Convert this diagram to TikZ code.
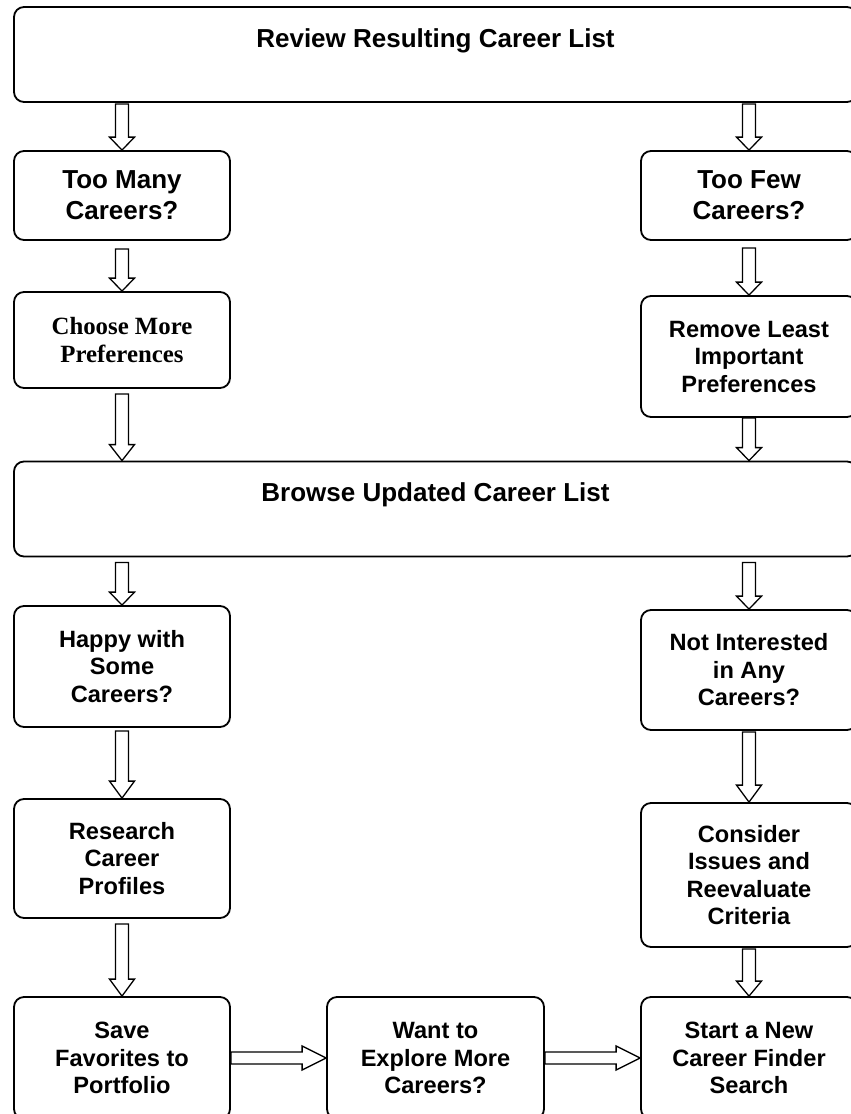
\documentclass[tikz,border=0pt]{standalone}
\usepackage{fontspec}
\setmainfont{Liberation Sans}
\newfontfamily\slabserif{Liberation Serif}
\usetikzlibrary{calc,backgrounds}

\tikzset{
  box/.style={draw, line width=1.8pt, rounded corners=10pt, inner sep=0pt,
    align=center, font=\bfseries\fontsize{23.6}{27.5}\selectfont},
  narrow/.style={box, minimum width=216pt},
  wide/.style={box, minimum width=843pt, font=\bfseries\fontsize{26}{31}\selectfont,
    text height=40pt, text depth=55pt},
  headfont/.style={font=\bfseries\fontsize{26}{31}\selectfont},
  blockarrow/.style={draw, fill=white, line width=1.3pt, line join=miter},
}

% hollow block arrow pointing down: #1 start, #2 end, #3 gap below start, #4 head length
\newcommand\downblock[4]{%
  \path[blockarrow] let \p1=(#1), \p2=(#2) in
    (\x1-6.5pt,\y1-#3pt) -- (\x1-6.5pt,\y2+#4pt) -- (\x1-12.5pt,\y2+#4pt) --
    (\x1,\y2) -- (\x1+12.5pt,\y2+#4pt) -- (\x1+6.5pt,\y2+#4pt) --
    (\x1+6.5pt,\y1-#3pt) -- cycle;}

% hollow block arrow pointing right: #1 start, #2 end
\newcommand\rightblock[2]{%
  \path[blockarrow] let \p1=(#1), \p2=(#2) in
    (\x1,\y1+6pt) -- (\x2-24pt,\y1+6pt) -- (\x2-24pt,\y1+12pt) -- (\x2,\y1) --
    (\x2-24pt,\y1-12pt) -- (\x2-24pt,\y1-6pt) -- (\x1,\y1-6pt) -- cycle;}

\begin{document}
\begin{tikzpicture}[x=1pt,y=-1pt]
\useasboundingbox (0,0) rectangle (851,1114);
\clip (0,0) rectangle (851,1114);

% boxes
\node[wide] (review) at (435.5,54.5) {Review Resulting Career List};
\node[narrow, minimum height=89pt, headfont] (toomany) at (122,195.5) {Too Many\\Careers?};
\node[narrow, minimum height=89pt, headfont] (toofew) at (749,195.5) {Too Few\\Careers?};
\node[narrow, minimum height=96pt, font=\slabserif\bfseries\fontsize{24.8}{28}\selectfont]
  (choose) at (122,340) {Choose More\\Preferences};
\node[narrow, minimum height=121pt] (remove) at (749,356.5) {Remove Least\\Important\\Preferences};
\node[wide] (browse) at (435.5,509) {Browse Updated Career List};
\node[narrow, minimum height=121pt] (happy) at (122,666.5) {Happy with\\Some\\Careers?};
\node[narrow, minimum height=120pt] (notint) at (749,670) {Not Interested\\in Any\\Careers?};
\node[narrow, minimum height=119pt] (research) at (122,858.5) {Research\\Career\\Profiles};
\node[narrow, minimum height=144pt] (consider) at (749,875) {Consider\\Issues and\\Reevaluate\\Criteria};
\node[narrow, minimum height=122pt] (save) at (122,1058) {Save\\Favorites to\\Portfolio};
\node[box, minimum width=217pt, minimum height=122pt] (want) at (435.5,1058) {Want to\\Explore More\\Careers?};
\node[narrow, minimum height=122pt] (start) at (749,1058) {Start a New\\Career Finder\\Search};

% connectors
\begin{pgfonlayer}{background}
\fill[white] (0,0) rectangle (851,1114);
\downblock{review.south -| toomany.north}{toomany.north}{1}{13}
\downblock{review.south -| toofew.north}{toofew.north}{1}{13}
\downblock{toomany.south}{choose.north}{8}{13}
\downblock{toofew.south}{remove.north}{7}{13}
\downblock{choose.south}{browse.north -| choose.south}{5}{16}
\downblock{remove.south}{browse.north -| remove.south}{0}{13}
\downblock{browse.south -| happy.north}{happy.north}{5}{13}
\downblock{browse.south -| notint.north}{notint.north}{5}{13}
\downblock{happy.south}{research.north}{3}{17}
\downblock{notint.south}{consider.north}{1}{17}
\downblock{research.south}{save.north}{5}{17}
\downblock{consider.south}{start.north}{1}{15}
\rightblock{save.east}{want.west}
\rightblock{want.east}{start.west}
\end{pgfonlayer}
\end{tikzpicture}
\end{document}
